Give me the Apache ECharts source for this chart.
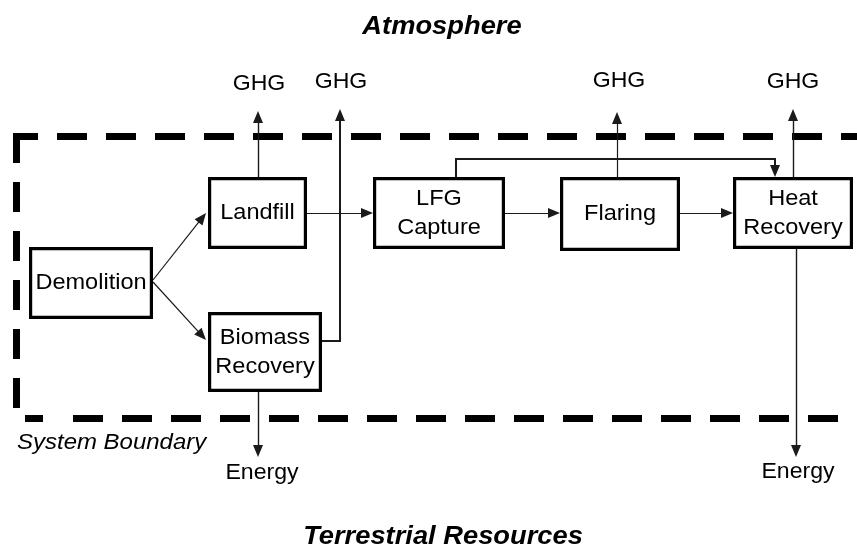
<!DOCTYPE html>
<html>
<head>
<meta charset="utf-8">
<script src="https://cdn.jsdelivr.net/npm/echarts@6/dist/echarts.min.js"></script>
<style>
html,body{margin:0;padding:0;background:#fff}
#container{width:857px;height:548px}
</style>
</head>
<body>
<div id="container"></div>
<script>
// process boxes
var nodeNames = ['Demolition', 'Landfill', 'LFG Capture', 'Flaring', 'Heat Recovery', 'Biomass Recovery'];
var nodeLabels = ['Demolition', 'Landfill', 'LFG\nCapture', 'Flaring', 'Heat\nRecovery', 'Biomass\nRecovery'];
// material / gas flows between boxes
var flowFrom = ['Demolition', 'Demolition', 'Landfill', 'LFG Capture', 'Flaring', 'LFG Capture'];
var flowTo = ['Landfill', 'Biomass Recovery', 'LFG Capture', 'Flaring', 'Heat Recovery', 'Heat Recovery'];
// outputs leaving the system boundary
var outputNames = ['GHG', 'GHG', 'GHG', 'GHG', 'Energy', 'Energy'];
var outputFrom = ['Landfill', 'Biomass Recovery', 'Flaring', 'Heat Recovery', 'Biomass Recovery', 'Heat Recovery'];
var regionNames = ['Atmosphere', 'Terrestrial Resources', 'System Boundary'];

// ---- layout (pixel grid 857 x 548, y down) ----
var boxLayout = [
    [29, 247, 153, 319],
    [208, 177, 307, 249],
    [373, 177, 505, 249],
    [560, 177, 680, 251],
    [733, 177, 853, 249],
    [208, 312, 322, 392]
];
var flowPaths = [
    [[153, 280], [206, 213]],
    [[153, 282], [206, 340]],
    [[307, 213], [373, 213]],
    [[505, 213], [560, 213]],
    [[680, 213], [733, 213]],
    [[456, 177], [456, 159], [775, 159], [775, 177]]
];
var flowWidth = [1.2, 1.2, 1.2, 1.2, 1.2, 2];
var outputPaths = [
    [[258, 177], [258, 111]],
    [[322, 341], [340, 341], [340, 109]],
    [[617, 177], [617, 112]],
    [[793, 177], [793, 109]],
    [[258, 392], [258, 457]],
    [[796, 249], [796, 457]]
];
var outputWidth = [1.4, 2, 1.2, 1.4, 1.4, 1.4];
var outputLabelPos = [[259, 84], [341, 82], [619, 81], [793, 82], [262, 473], [798, 472]];
var regionPos = [[442, 27], [443, 537], [17, 443]];
var boundarySegs = [
    {coords: [[13, 136], [857, 136]], offset: 5},
    {coords: [[16.5, 133], [16.5, 408]], offset: 0},
    {coords: [[25, 418.5], [43, 418.5]], offset: 0},
    {coords: [[73, 418.5], [857, 418.5]], offset: 0}
];

var ARROW_W = 10, ARROW_H = 12;
var plainSegs = [];
var arrowSegs = [];
function addPath(pts, w) {
    for (var i = 0; i < pts.length - 1; i++) {
        var a = pts[i], b = pts[i + 1];
        if (i < pts.length - 2) {
            plainSegs.push({coords: [a, b], lineStyle: {width: w}});
        } else {
            var dx = b[0] - a[0], dy = b[1] - a[1];
            var len = Math.sqrt(dx * dx + dy * dy);
            var end = [b[0] - dx / len * ARROW_H / 2, b[1] - dy / len * ARROW_H / 2];
            arrowSegs.push({coords: [a, end], lineStyle: {width: w}});
        }
    }
}
for (var i = 0; i < flowPaths.length; i++) addPath(flowPaths[i], flowWidth[i]);
for (var j = 0; j < outputPaths.length; j++) addPath(outputPaths[j], outputWidth[j]);

var bodyFont = '22px "Liberation Sans", Arial, sans-serif';
var freeTexts = [];
for (var k = 0; k < outputNames.length; k++) {
    freeTexts.push({pos: outputLabelPos[k], text: outputNames[k], font: bodyFont, sx: 1.05, align: 'center'});
}
freeTexts.push({pos: regionPos[0], text: regionNames[0], font: 'italic bold 26px "Liberation Sans", Arial, sans-serif', sx: 1.05, align: 'center'});
freeTexts.push({pos: regionPos[1], text: regionNames[1], font: 'italic bold 26px "Liberation Sans", Arial, sans-serif', sx: 1.05, align: 'center'});
freeTexts.push({pos: regionPos[2], text: regionNames[2], font: 'italic 22px "Liberation Sans", Arial, sans-serif', sx: 1.09, align: 'left'});

var dom = document.getElementById('container');
var myChart = echarts.init(dom);
var option = {
    animation: false,
    grid: {left: 0, right: 0, top: 0, bottom: 0},
    xAxis: {type: 'value', min: 0, max: 857, show: false},
    yAxis: {type: 'value', min: 0, max: 548, inverse: true, show: false},
    series: [
        {
            name: 'boundary',
            type: 'lines',
            coordinateSystem: 'cartesian2d',
            symbol: 'none',
            silent: true,
            lineStyle: {color: '#000', width: 7, type: [30, 19], cap: 'butt', opacity: 1},
            data: boundarySegs.map(function (s) {
                return {coords: s.coords, lineStyle: {dashOffset: s.offset}};
            })
        },
        {
            name: 'links',
            type: 'lines',
            coordinateSystem: 'cartesian2d',
            symbol: 'none',
            silent: true,
            lineStyle: {color: '#1a1a1a', width: 1.2, opacity: 1, cap: 'square'},
            data: plainSegs
        },
        {
            name: 'arrows',
            type: 'lines',
            coordinateSystem: 'cartesian2d',
            symbol: ['none', 'triangle'],
            symbolSize: [1, [ARROW_W, ARROW_H]],
            silent: true,
            lineStyle: {color: '#1a1a1a', width: 1.2, opacity: 1},
            itemStyle: {color: '#000'},
            data: arrowSegs
        },
        {
            name: 'boxes',
            type: 'custom',
            coordinateSystem: 'cartesian2d',
            silent: true,
            data: boxLayout,
            renderItem: function (params, api) {
                var p0 = api.coord([api.value(0), api.value(1)]);
                var p1 = api.coord([api.value(2), api.value(3)]);
                var lw = 3.2;
                return {
                    type: 'group',
                    children: [
                        {
                            type: 'rect',
                            shape: {x: p0[0] + lw / 2, y: p0[1] + lw / 2, width: p1[0] - p0[0] - lw, height: p1[1] - p0[1] - lw},
                            style: {fill: '#fff', stroke: '#000', lineWidth: lw}
                        },
                        {
                            type: 'text',
                            x: (p0[0] + p1[0]) / 2,
                            y: (p0[1] + p1[1]) / 2,
                            scaleX: 1.07,
                            style: {
                                text: nodeLabels[params.dataIndex],
                                font: bodyFont,
                                lineHeight: 29,
                                fill: '#000',
                                align: 'center',
                                verticalAlign: 'middle'
                            }
                        }
                    ]
                };
            }
        },
        {
            name: 'texts',
            type: 'custom',
            coordinateSystem: 'cartesian2d',
            silent: true,
            data: freeTexts.map(function (t) { return t.pos; }),
            renderItem: function (params, api) {
                var t = freeTexts[params.dataIndex];
                var p = api.coord([api.value(0), api.value(1)]);
                return {
                    type: 'text',
                    x: p[0],
                    y: p[1],
                    scaleX: t.sx,
                    style: {
                        text: t.text,
                        font: t.font,
                        fill: '#000',
                        align: t.align,
                        verticalAlign: 'middle'
                    }
                };
            }
        }
    ]
};
if (option && typeof option === "object") {
    myChart.setOption(option, true);
}
</script>
</body>
</html>
